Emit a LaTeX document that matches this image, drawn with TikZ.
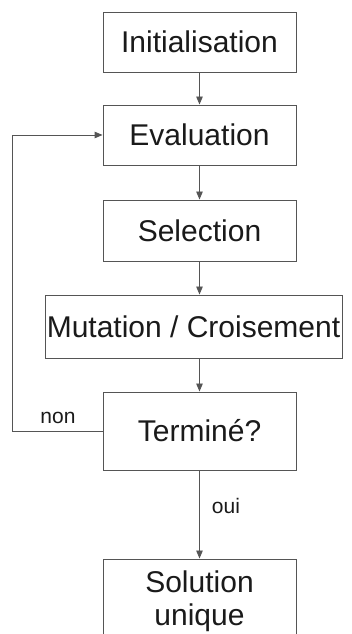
\documentclass[tikz,border=0pt]{standalone}
\usepackage{fontspec}
\setmainfont{Liberation Sans}
\usetikzlibrary{arrows.meta}
\definecolor{linecol}{HTML}{555555}
\definecolor{textcol}{HTML}{1A1A1A}
\tikzset{
  box/.style={draw=linecol, line width=0.9pt, rectangle, inner sep=0pt,
    text=textcol, font=\fontsize{30}{33}\selectfont, align=center},
  lbl/.style={inner sep=0pt, text=textcol, font=\fontsize{21}{24}\selectfont},
  conn/.style={draw=linecol, line width=0.9pt, -{Triangle[length=8pt,width=6.5pt]}}
}
\begin{document}
\begin{tikzpicture}[x=1pt,y=1pt]
\useasboundingbox (0,0) rectangle (352,634);
\clip (0,0) rectangle (352,634);
\fill[white] (0,0) rectangle (352,634);
\node[box, minimum width=193pt, minimum height=60pt] (init) at (199.5,592) {Initialisation};
\node[box, minimum width=193pt, minimum height=60pt] (eval) at (199.5,499) {Evaluation};
\node[box, minimum width=193pt, minimum height=61pt] (sel) at (199.5,403.5) {Selection};
\node[box, minimum width=297pt, minimum height=63pt] (mut) at (193.5,307.5) {Mutation / Croisement};
\node[box, minimum width=193pt, minimum height=78pt] (term) at (199.5,203) {Terminé?};
\node[box, minimum width=193pt, minimum height=84pt] (sol) at (199.5,33) {Solution\\unique};
\node[lbl] (non) at (58,216) {non};
\node[lbl] (oui) at (226,128) {oui};
\coordinate (lb) at (12,203);
\coordinate (lt) at (12,499);
\draw[conn] (init.south) -- (eval.north);
\draw[conn] (eval.south) -- (sel.north);
\draw[conn] (sel.south) -- (sel.south |- mut.north);
\draw[conn] (sel.south |- mut.south) -- (term.north);
\draw[conn] (term.south) -- (sol.north);
\draw[conn] (term.west) -- (lb) -- (lt) -- (eval.west);
\end{tikzpicture}
\end{document}
